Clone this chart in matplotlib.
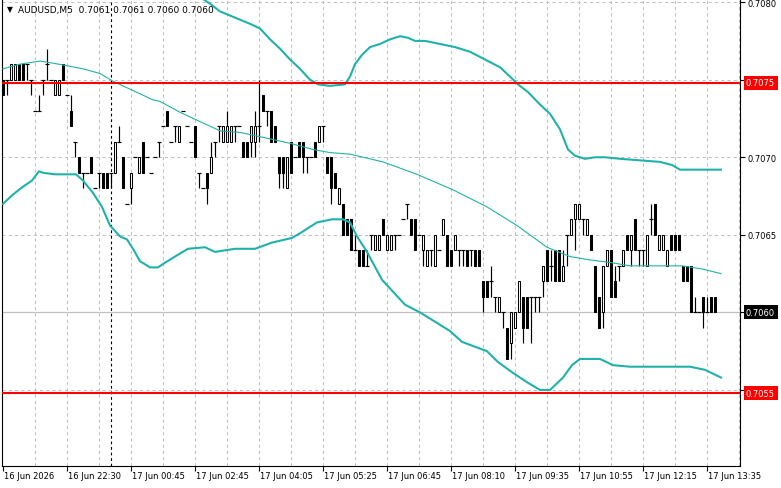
import matplotlib
matplotlib.use("Agg")
import matplotlib.pyplot as plt
import matplotlib.transforms as mtransforms
from matplotlib.patches import Rectangle

# ---------------- data (AUDUSD M5) ----------------
opens = [
0.7075,0.7075,0.7075,0.7075,0.7076,0.7076,0.7076,0.7075,0.7073,0.7073,
0.7075,0.7076,0.7075,0.7074,0.7074,0.7076,0.7074,0.7073,0.7071,0.7070,
0.7069,0.7069,0.7070,0.7068,0.7069,0.7069,0.7069,0.7069,0.7069,0.7071,
0.7070,0.7067,0.7068,0.7070,0.7069,0.7071,0.7070,0.7069,0.7070,0.7071,
0.7072,0.7073,0.7071,0.7072,0.7071,0.7073,0.7072,0.7071,0.7072,0.7069,
0.7068,0.7069,0.7069,0.7071,0.7072,0.7071,0.7071,0.7071,0.7072,0.7072,
0.7071,0.7071,0.7071,0.7071,0.7072,0.7074,0.7073,0.7073,0.7072,0.7070,
0.7070,0.7068,0.7071,0.7070,0.7071,0.7071,0.7070,0.7070,0.7071,0.7071,
0.7072,0.7070,0.7070,0.7069,0.7067,0.7067,0.7066,0.7066,0.7064,0.7064,
0.7064,0.7063,0.7065,0.7064,0.7064,0.7066,0.7064,0.7064,0.7065,0.7065,
0.7066,0.7067,0.7066,0.7066,0.7065,0.7064,0.7063,0.7064,0.7063,0.7064,
0.7065,0.7065,0.7064,0.7064,0.7064,0.7064,0.7064,0.7064,0.7064,0.7064,
0.7062,0.7062,0.7062,0.7061,0.7060,0.7060,0.7059,0.7058,0.7059,0.7060,
0.7061,0.7061,0.7061,0.7061,0.7061,0.7062,0.7064,0.7063,0.7064,0.7064,
0.7062,0.7065,0.7065,0.7066,0.7066,0.7066,0.7065,0.7065,0.7063,0.7061,
0.7060,0.7063,0.7064,0.7062,0.7063,0.7063,0.7065,0.7064,0.7066,0.7064,
0.7064,0.7063,0.7066,0.7067,0.7064,0.7064,0.7063,0.7065,0.7065,0.7065,
0.7063,0.7063,0.7063,0.7060,0.7060,0.7061,0.7060,0.7061,0.7061]
highs = [
0.7075,0.7075,0.7076,0.7076,0.7076,0.7076,0.7076,0.7075,0.7073,0.7074,
0.7075,0.7077,0.7075,0.7075,0.7075,0.7076,0.7074,0.7074,0.7071,0.7070,
0.7069,0.7069,0.7070,0.7068,0.7069,0.7069,0.7069,0.7069,0.7071,0.7072,
0.7070,0.7067,0.7069,0.7070,0.7070,0.7071,0.7070,0.7069,0.7070,0.7071,
0.7072,0.7073,0.7071,0.7072,0.7072,0.7073,0.7072,0.7071,0.7072,0.7069,
0.7068,0.7069,0.7071,0.7071,0.7072,0.7072,0.7073,0.7072,0.7072,0.7072,
0.7071,0.7071,0.7072,0.7073,0.7075,0.7074,0.7073,0.7073,0.7072,0.7070,
0.7070,0.7070,0.7071,0.7070,0.7071,0.7071,0.7070,0.7070,0.7071,0.7072,
0.7072,0.7070,0.7070,0.7069,0.7068,0.7067,0.7066,0.7066,0.7065,0.7064,
0.7064,0.7064,0.7065,0.7065,0.7065,0.7066,0.7065,0.7065,0.7065,0.7065,
0.7066,0.7067,0.7066,0.7066,0.7065,0.7065,0.7064,0.7064,0.7065,0.7064,
0.7066,0.7065,0.7064,0.7065,0.7064,0.7064,0.7064,0.7064,0.7064,0.7064,
0.7062,0.7062,0.7063,0.7061,0.7061,0.7060,0.7059,0.7060,0.7060,0.7062,
0.7061,0.7061,0.7061,0.7061,0.7061,0.7063,0.7064,0.7064,0.7064,0.7064,
0.7064,0.7065,0.7066,0.7067,0.7067,0.7066,0.7066,0.7065,0.7063,0.7061,
0.7063,0.7064,0.7064,0.7063,0.7063,0.7064,0.7065,0.7065,0.7066,0.7064,
0.7064,0.7065,0.7067,0.7067,0.7065,0.7065,0.7064,0.7065,0.7065,0.7065,
0.7063,0.7063,0.7063,0.7061,0.7060,0.7061,0.7061,0.7061,0.7061]
lows = [
0.7074,0.7074,0.7075,0.7075,0.7075,0.7075,0.7075,0.7074,0.7073,0.7073,
0.7074,0.7075,0.7075,0.7074,0.7074,0.7075,0.7074,0.7072,0.7070,0.7069,
0.7068,0.7069,0.7069,0.7068,0.7068,0.7068,0.7068,0.7068,0.7069,0.7071,
0.7068,0.7067,0.7067,0.7070,0.7069,0.7069,0.7070,0.7069,0.7070,0.7070,
0.7072,0.7072,0.7071,0.7071,0.7071,0.7073,0.7072,0.7071,0.7070,0.7068,
0.7068,0.7067,0.7069,0.7070,0.7071,0.7071,0.7071,0.7071,0.7071,0.7072,
0.7070,0.7070,0.7070,0.7070,0.7071,0.7073,0.7072,0.7071,0.7071,0.7068,
0.7068,0.7068,0.7069,0.7070,0.7070,0.7069,0.7069,0.7070,0.7070,0.7071,
0.7071,0.7069,0.7067,0.7068,0.7067,0.7065,0.7065,0.7064,0.7064,0.7063,
0.7063,0.7063,0.7064,0.7064,0.7064,0.7065,0.7064,0.7064,0.7064,0.7065,
0.7066,0.7066,0.7065,0.7064,0.7065,0.7063,0.7063,0.7063,0.7063,0.7064,
0.7065,0.7063,0.7063,0.7064,0.7063,0.7063,0.7063,0.7063,0.7063,0.7063,
0.7060,0.7061,0.7061,0.7060,0.7060,0.7059,0.7057,0.7057,0.7059,0.7060,
0.7058,0.7059,0.7058,0.7060,0.7060,0.7061,0.7062,0.7062,0.7062,0.7062,
0.7062,0.7063,0.7065,0.7064,0.7066,0.7065,0.7065,0.7064,0.7060,0.7059,
0.7059,0.7063,0.7061,0.7061,0.7062,0.7063,0.7064,0.7063,0.7064,0.7063,
0.7063,0.7063,0.7065,0.7065,0.7064,0.7064,0.7063,0.7064,0.7064,0.7064,
0.7062,0.7062,0.7060,0.7060,0.7060,0.7059,0.7060,0.7060,0.7060]
closes = [
0.7074,0.7075,0.7076,0.7076,0.7075,0.7075,0.7076,0.7075,0.7073,0.7073,
0.7075,0.7076,0.7075,0.7075,0.7075,0.7075,0.7074,0.7072,0.7071,0.7069,
0.7069,0.7069,0.7069,0.7068,0.7069,0.7068,0.7068,0.7069,0.7071,0.7071,
0.7068,0.7067,0.7069,0.7070,0.7070,0.7069,0.7070,0.7069,0.7070,0.7071,
0.7072,0.7072,0.7071,0.7072,0.7072,0.7073,0.7072,0.7071,0.7070,0.7069,
0.7068,0.7068,0.7070,0.7071,0.7072,0.7072,0.7072,0.7072,0.7072,0.7072,
0.7070,0.7070,0.7072,0.7072,0.7072,0.7073,0.7073,0.7071,0.7071,0.7069,
0.7069,0.7070,0.7069,0.7070,0.7070,0.7070,0.7070,0.7070,0.7070,0.7072,
0.7072,0.7069,0.7068,0.7068,0.7068,0.7065,0.7065,0.7064,0.7064,0.7063,
0.7063,0.7063,0.7065,0.7065,0.7065,0.7065,0.7065,0.7065,0.7065,0.7065,
0.7066,0.7067,0.7065,0.7064,0.7065,0.7065,0.7064,0.7064,0.7065,0.7064,
0.7066,0.7063,0.7063,0.7065,0.7064,0.7064,0.7063,0.7064,0.7063,0.7063,
0.7061,0.7061,0.7062,0.7061,0.7061,0.7060,0.7057,0.7060,0.7060,0.7062,
0.7059,0.7059,0.7061,0.7061,0.7061,0.7063,0.7062,0.7063,0.7062,0.7062,
0.7063,0.7065,0.7066,0.7067,0.7067,0.7066,0.7066,0.7064,0.7060,0.7059,
0.7063,0.7064,0.7061,0.7061,0.7063,0.7064,0.7064,0.7065,0.7064,0.7064,
0.7064,0.7065,0.7066,0.7065,0.7065,0.7065,0.7064,0.7064,0.7064,0.7064,
0.7062,0.7062,0.7060,0.7060,0.7060,0.7060,0.7060,0.7060,0.7060]

# Bollinger bands (bar index, price)
upper_x = [49, 50, 51.75, 54.25, 58, 61.75, 64.25, 66.75, 69.25, 71.75, 74.25, 76.75,
           78.75, 81.75, 85.5, 86.75, 88, 89.75, 91.75, 94.25, 96.75, 99.25, 101.25,
           103, 105.5, 109.25, 113, 116.75, 120.5, 124.25, 126.75, 128.75, 131.25,
           134.25, 136.75, 139.25, 141.25, 143, 145.5, 148, 150.5, 154.25, 159.25,
           164.25, 167.25, 169.25, 174.25, 179.5]
upper_y = [0.70806, 0.70802, 0.70799, 0.70794, 0.70790, 0.70786, 0.70783, 0.70776, 0.70770,
           0.70763, 0.70757, 0.70750, 0.70747, 0.70746, 0.70747, 0.70752, 0.70760,
           0.70766, 0.70771, 0.70773, 0.70776, 0.70778, 0.70777, 0.70775, 0.70775,
           0.70773, 0.70771, 0.70768, 0.70763, 0.70758, 0.70752, 0.70747, 0.70742,
           0.70734, 0.70728, 0.70718, 0.70705, 0.70701, 0.70699, 0.70700, 0.70700,
           0.70699, 0.70698, 0.70697, 0.70695, 0.70692, 0.70692, 0.70692]
middle_x = [0, 4.25, 9.25, 11.75, 16, 20, 24.25, 27.5, 32.5, 37.5, 39.25, 44.25, 49.25,
            54.25, 59.25, 64.75, 71.75, 77.5, 81.75, 86.75, 95, 103.5, 112.5, 121,
            128.5, 136, 141.75, 146.25, 152.25, 156.75, 161.75, 169.75, 174.75, 179.5]
middle_y = [0.70757, 0.70760, 0.70762, 0.70761, 0.70759, 0.70757, 0.70754, 0.70749,
            0.70743, 0.70737, 0.70736, 0.70729, 0.70723, 0.70717, 0.70716, 0.70713,
            0.70709, 0.70705, 0.70703, 0.70702, 0.70697, 0.70689, 0.70679, 0.70668,
            0.70656, 0.70642, 0.70636, 0.70634, 0.70632, 0.70630, 0.70630, 0.70630,
            0.70628, 0.70625]
lower_x = [0, 2.5, 5, 7.25, 9, 10, 13, 18.25, 20, 22.5, 24.75, 26.75, 29.25, 31, 32.5,
           34.25, 36.75, 38.75, 40.5, 43, 46.25, 50.5, 53, 58, 63, 67.25, 72.25, 74.25,
           78.5, 82.25, 85, 86.75, 88.5, 91, 94.75, 100.5, 104.25, 108, 111.75, 114.75,
           121, 123.75, 127.5, 131, 134.25, 136.75, 140, 142.25, 144.25, 149.25, 152.5,
           156.75, 164.25, 171.75, 175.5, 179.5]
lower_y = [0.70670, 0.70676, 0.70681, 0.70685, 0.70691, 0.70690, 0.70689, 0.70689,
           0.70685, 0.70677, 0.70668, 0.70656, 0.70649, 0.70647, 0.70641, 0.70633,
           0.70629, 0.70629, 0.70632, 0.70636, 0.70641, 0.70642, 0.70639, 0.70641,
           0.70641, 0.70645, 0.70648, 0.70651, 0.70658, 0.70660, 0.70660, 0.70658,
           0.70649, 0.70639, 0.70621, 0.70605, 0.70600, 0.70594, 0.70588, 0.70581,
           0.70575, 0.70568, 0.70561, 0.70555, 0.70550, 0.70550, 0.70558, 0.70566,
           0.70570, 0.70570, 0.70566, 0.70565, 0.70565, 0.70565, 0.70563, 0.70558]

hlines = [0.70748, 0.70548]
bid = 0.7060
separator_bar = 27
price_ticks = [0.7080, 0.7075, 0.7070, 0.7065, 0.7060, 0.7055]
time_label_bars = [0, 16, 32, 48, 64, 80, 96, 112, 128, 144, 160, 176]
time_labels = ["16 Jun 2026", "16 Jun 22:30", "17 Jun 00:45", "17 Jun 02:45",
               "17 Jun 04:05", "17 Jun 05:25", "17 Jun 06:45", "17 Jun 08:10",
               "17 Jun 09:35", "17 Jun 10:55", "17 Jun 12:15", "17 Jun 13:35"]
title = "AUDUSD,M5  0.7061 0.7061 0.7060 0.7060"

# ---------------- drawing ----------------
W, H = 781, 489
fig = plt.figure(figsize=(W / 100, H / 100), dpi=100)
fig.patch.set_facecolor("white")
ax = fig.add_axes([2 / W, 22 / H, 738 / W, 467 / H])
ax.set_facecolor("white")
ax.set_xlim(-0.25, 184.25)
ax.set_ylim(0.70501, 0.70802)

grid_c = "#C0C0C0"
for g in range(8, 185, 8):
    ax.axvline(g, color=grid_c, lw=0.75, ls=(0, (3, 3)), zorder=0)
for p in [0.7080, 0.7075, 0.7070, 0.7065, 0.7055]:
    ax.axhline(p, color=grid_c, lw=0.75, ls=(0, (3, 3)), zorder=0)
ax.axhline(bid, color=grid_c, lw=0.9, zorder=0.5)

ax.axvline(separator_bar, color="black", lw=0.8, ls=(0, (2.5, 2.5)), zorder=1)

bw = 0.5
for i, (o, h, l, c) in enumerate(zip(opens, highs, lows, closes)):
    hi = max(h, o, c)
    lo = min(l, o, c)
    if hi > lo:
        ax.vlines(i, lo, hi, color="black", lw=0.85, zorder=2)
    if abs(c - o) < 1e-9:
        ax.hlines(o, i - 0.4, i + 0.4, color="black", lw=0.85, zorder=3)
    else:
        fc = "white" if c > o else "black"
        ax.add_patch(Rectangle((i - bw / 2, min(o, c)), bw, abs(c - o),
                               facecolor=fc, edgecolor="black", lw=0.75, zorder=3))

teal = "#20B2AA"
ax.plot(upper_x, upper_y, color=teal, lw=1.5, zorder=4, solid_joinstyle="round")
ax.plot(middle_x, middle_y, color=teal, lw=0.8, zorder=4)
ax.plot(lower_x, lower_y, color=teal, lw=1.5, zorder=4, solid_joinstyle="round")

for p in hlines:
    ax.axhline(p, color="#FF0000", lw=1.5, zorder=5)

for s in ["left", "bottom", "right"]:
    ax.spines[s].set_color("black")
    ax.spines[s].set_linewidth(0.8)
ax.spines["top"].set_visible(False)

fs = 6.0
ax.set_xticks(time_label_bars)
ax.tick_params(axis="x", length=3.5, width=0.8, direction="out", labelbottom=False)
ax.yaxis.tick_right()
ax.set_yticks(price_ticks)
ax.set_yticklabels([f"{p:.4f}" if p in (0.7080, 0.7070, 0.7065) else "" for p in price_ticks])
ax.tick_params(axis="y", length=3.5, width=0.8, direction="out", pad=2,
               labelsize=fs, labelcolor="black")

trans_y = mtransforms.blended_transform_factory(fig.transFigure, ax.transData)
for p, lab, col in [(hlines[0], "0.7075", "#FF0000"), (hlines[1], "0.7055", "#FF0000"),
                    (bid, "0.7060", "black")]:
    ax.text(746 / W, p, lab, transform=trans_y, fontsize=fs, color="white",
            va="center", ha="left", clip_on=False, zorder=10,
            bbox=dict(boxstyle="square,pad=0.3", fc=col, ec="none"))

trans_x = mtransforms.blended_transform_factory(ax.transData, fig.transFigure)
for b, lab in zip(time_label_bars, time_labels):
    ax.text(b + 0.2, 1 - 477 / H, lab, transform=trans_x, fontsize=fs,
            va="center", ha="left", clip_on=False)

fig.text(7 / W, 1 - 10 / H, "\u25BC", fontsize=5.5, va="center", ha="left")
fig.text(18 / W, 1 - 10 / H, title, fontsize=6.5, va="center", ha="left")

fig.savefig("out.png", dpi=100, facecolor="white")
